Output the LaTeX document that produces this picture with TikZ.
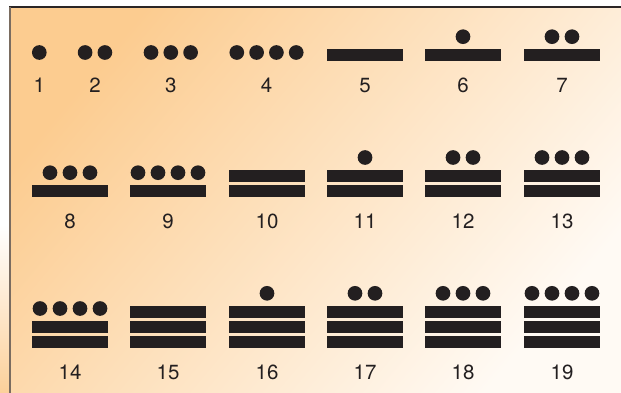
\documentclass[tikz,border=0pt]{standalone}
\usepackage{fontspec}
\setmainfont{TeX Gyre Heros}
\definecolor{mblack}{HTML}{231F20}
\definecolor{bgA}{HTML}{FCCC90}
\definecolor{bgB}{HTML}{FEE4C4}
\definecolor{bgC}{HTML}{FFFAF4}
\definecolor{stripO}{HTML}{FCD09A}
\definecolor{edgeTop}{HTML}{2B2626}
\definecolor{edgeLeft}{HTML}{7A6C60}
\newcommand\mayaglyph[4]{% #1 x centre, #2 top of lowest bar, #3 bars, #4 dots
  \foreach \b in {1,...,#3}{
    \fill[barfill] ({#1-38},{#2-(\b-1)*15.2}) rectangle ++(76,12);
  }
  \ifnum#4>0
    \foreach \d in {1,...,#4}{
      \fill[dotfill] ({#1+(\d-(#4+1)/2)*20},{#2-(#3-1)*15.2-12.3}) circle (7.35);
    }
  \fi
}
\newcommand\mayadots[3]{% #1 x centre, #2 y centre, #3 dots
  \foreach \d in {1,...,#3}{
    \fill[dotfill] ({#1+(\d-(#3+1)/2)*19.8},{#2}) circle (7.35);
  }
}
\begin{document}
\begin{tikzpicture}[x=1pt,y=-1pt,
  barfill/.style={fill=mblack},
  dotfill/.style={fill=mblack},
  lbl/.style={font=\fontsize{20.5}{24}\selectfont, text=mblack, anchor=base, inner sep=0pt}]
\useasboundingbox (0,0) rectangle (621,393);
\fill[white] (0,0) rectangle (621,393);
% left strip below the panel edge
\shade[top color=white, bottom color=stripO] (0,225) rectangle (9,393);
% panel background
\shade[top color=bgA, middle color=bgB, bottom color=bgC, shading angle=50] (9.5,7) rectangle (621,393);
\draw[edgeTop, line width=1.5pt] (9,7) -- (621,7);
\draw[edgeLeft, line width=1.8pt] (9.6,7) -- (9.6,393);
% row 1
\mayadots{39.3}{52.5}{1}
\mayadots{95}{52.5}{2}
\mayadots{170.8}{52.5}{3}
\mayadots{266.5}{52.5}{4}
\mayaglyph{365}{49}{1}{0}
\mayaglyph{463}{49}{1}{1}
\mayaglyph{562}{49}{1}{2}
\node[lbl] (n1) at (39.3,92.3) {1};
\node[lbl] (n2) at (95,92.3) {2};
\node[lbl] (n3) at (170.8,92.3) {3};
\node[lbl] (n4) at (266.5,92.3) {4};
\node[lbl] (n5) at (365,92.3) {5};
\node[lbl] (n6) at (463,92.3) {6};
\node[lbl] (n7) at (562,92.3) {7};
% row 2
\mayaglyph{70}{185}{1}{3}
\mayaglyph{168}{185}{1}{4}
\mayaglyph{267}{185}{2}{0}
\mayaglyph{365}{185}{2}{1}
\mayaglyph{463}{185}{2}{2}
\mayaglyph{562}{185}{2}{3}
\node[lbl] (n8) at (70,228.5) {8};
\node[lbl] (n9) at (168,228.5) {9};
\node[lbl] (n10) at (267,228.5) {10};
\node[lbl] (n11) at (365,228.5) {11};
\node[lbl] (n12) at (463,228.5) {12};
\node[lbl] (n13) at (562,228.5) {13};
% row 3
\mayaglyph{70}{336}{2}{4}
\mayaglyph{168}{336}{3}{0}
\mayaglyph{267}{336}{3}{1}
\mayaglyph{365}{336}{3}{2}
\mayaglyph{463}{336}{3}{3}
\mayaglyph{562}{336}{3}{4}
\node[lbl] (n14) at (70,379) {14};
\node[lbl] (n15) at (168,379) {15};
\node[lbl] (n16) at (267,379) {16};
\node[lbl] (n17) at (365,379) {17};
\node[lbl] (n18) at (463,379) {18};
\node[lbl] (n19) at (562,379) {19};
\end{tikzpicture}
\end{document}
